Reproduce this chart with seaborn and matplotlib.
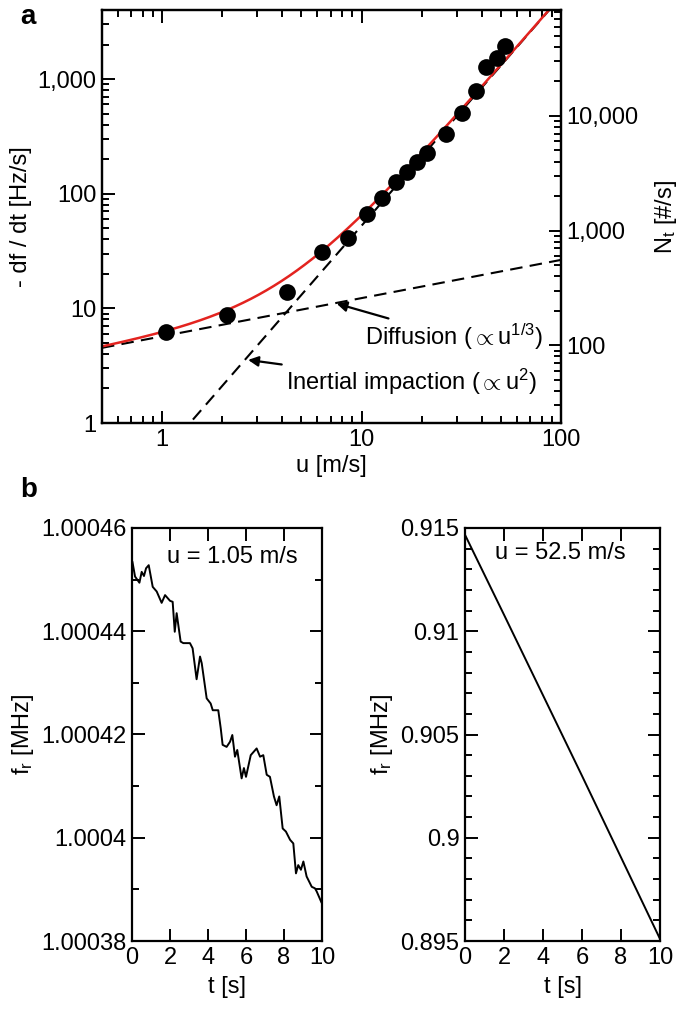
import numpy as np
import pandas as pd
import seaborn as sns
import matplotlib
matplotlib.use("Agg")
import matplotlib.pyplot as plt
from matplotlib.ticker import FuncFormatter, LogLocator, MultipleLocator, NullFormatter

# ---------------- data ----------------
u_data = [1.05, 2.12, 4.23, 6.34, 8.55, 10.65, 12.7, 14.9, 16.9, 19.0,
          21.3, 26.5, 31.9, 37.5, 42.1, 47.8, 52.5]
dfdt_data = [6.2, 8.7, 13.8, 30.7, 41.4, 67, 92, 127, 155, 190,
             227, 332, 506, 787, 1271, 1523, 1936]

# power-law model lines
diff_coef, diff_exp = 5.7, 1.0 / 3.0      # Diffusion  ~ u^(1/3)
inert_coef, inert_exp = 0.525, 2.0        # Inertial impaction ~ u^2
Nt_factor = 21.0                          # right axis scale (N_t per df/dt)

# time trace at u = 1.05 m/s
t_slow = [0.02, 0.16, 0.39, 0.51, 0.63, 0.74, 0.88, 1.09, 1.30, 1.56, 1.74, 2.00,
          2.14, 2.25, 2.35, 2.56, 2.70, 3.05, 3.19, 3.40, 3.58, 3.67, 3.93, 4.14,
          4.25, 4.54, 4.67, 4.77, 4.98, 5.16, 5.28, 5.42, 5.54, 5.77, 5.89, 6.00,
          6.25, 6.56, 6.74, 6.91, 7.09, 7.26, 7.47, 7.61, 7.75, 7.93, 8.10, 8.32,
          8.49, 8.63, 8.75, 8.89, 9.02, 9.19, 9.46, 9.63, 9.72, 9.98]
f_slow = [1.0004535, 1.0004506, 1.0004494, 1.0004515, 1.0004507, 1.0004522, 1.0004528,
          1.0004486, 1.0004477, 1.0004455, 1.0004470, 1.0004459, 1.0004457, 1.0004399,
          1.0004435, 1.0004380, 1.0004377, 1.0004377, 1.0004367, 1.0004307, 1.0004351,
          1.0004338, 1.0004270, 1.0004260, 1.0004247, 1.0004247, 1.0004212, 1.0004180,
          1.0004176, 1.0004186, 1.0004199, 1.0004157, 1.0004170, 1.0004115, 1.0004135,
          1.0004118, 1.0004160, 1.0004173, 1.0004157, 1.0004160, 1.0004122, 1.0004118,
          1.0004080, 1.0004063, 1.0004080, 1.0004018, 1.0004012, 1.0003996, 1.0003989,
          1.0003931, 1.0003947, 1.0003938, 1.0003954, 1.0003925, 1.0003905, 1.0003902,
          1.0003896, 1.0003874]

# time trace at u = 52.5 m/s
t_fast = [0, 2, 4, 6, 8, 10]
f_fast = [0.91467, 0.91080, 0.90690, 0.90300, 0.89905, 0.89510]

# ---------------- style ----------------
sns.set_theme(style="ticks")
plt.rcParams["font.family"] = ["Liberation Sans", "DejaVu Sans"]
plt.rcParams["mathtext.fontset"] = "custom"
plt.rcParams["mathtext.rm"] = "Liberation Sans"
plt.rcParams["mathtext.it"] = "Liberation Sans:italic"
plt.rcParams["mathtext.bf"] = "Liberation Sans:bold"
plt.rcParams["mathtext.sf"] = "Liberation Sans"
for key in ["text.color", "axes.labelcolor", "xtick.color", "ytick.color", "axes.edgecolor"]:
    plt.rcParams[key] = "black"
FS = 17
plt.rcParams["font.size"] = FS
plt.rcParams["axes.linewidth"] = 1.6

fig = plt.figure(figsize=(6.78, 10.09), dpi=100)
W, H = 678.0, 1009.0


def place(x0, x1, y0, y1):
    return fig.add_axes([x0 / W, 1 - y1 / H, (x1 - x0) / W, (y1 - y0) / H])


def style_ticks(ax, **kw):
    ax.tick_params(which="both", direction="in", width=1.4, colors="black",
                   labelsize=FS, **kw)
    ax.tick_params(which="major", length=9, pad=4)
    ax.tick_params(which="minor", length=5)
    for s in ax.spines.values():
        s.set_linewidth(1.6)
        s.set_color("black")


comma = FuncFormatter(lambda v, p: "{:,.0f}".format(v))

# ---------------- panel a ----------------
ax = place(102, 561, 10, 423)
ax.set_xscale("log")
ax.set_yscale("log")

u_fit = np.logspace(np.log10(0.5), np.log10(100), 300)
diff_line = diff_coef * u_fit ** diff_exp
inert_line = inert_coef * u_fit ** inert_exp
total_line = diff_line + inert_line

sns.lineplot(x=u_fit, y=diff_line, ax=ax, color="black", lw=1.5,
             linestyle=(0, (6, 3.5)), sort=False)
sns.lineplot(x=u_fit, y=inert_line, ax=ax, color="black", lw=1.5,
             linestyle=(0, (6, 3.5)), sort=False)
sns.lineplot(x=u_fit, y=total_line, ax=ax, color="#e3231f", lw=1.8, sort=False)
sns.scatterplot(x=u_data, y=dfdt_data, ax=ax, color="black", s=145,
                edgecolor="black", linewidth=0, zorder=5)

ax.set_xlim(0.5, 100)
ax.set_ylim(1, 4000)
ax.xaxis.set_major_locator(LogLocator(base=10, numticks=10))
ax.xaxis.set_minor_locator(LogLocator(base=10, subs=np.arange(2, 10), numticks=20))
ax.yaxis.set_major_locator(LogLocator(base=10, numticks=10))
ax.yaxis.set_minor_locator(LogLocator(base=10, subs=np.arange(2, 10), numticks=20))
ax.xaxis.set_major_formatter(comma)
ax.yaxis.set_major_formatter(comma)
ax.xaxis.set_minor_formatter(NullFormatter())
ax.yaxis.set_minor_formatter(NullFormatter())
style_ticks(ax, top=True, right=False)
ax.set_xlabel("u [m/s]", fontsize=FS, labelpad=3)
ax.set_ylabel("- df / dt [Hz/s]", fontsize=FS, labelpad=4)

ax2 = ax.twinx()
ax2.set_yscale("log")
ax2.set_ylim(1 * Nt_factor, 4000 * Nt_factor)
ax2.yaxis.set_major_locator(LogLocator(base=10, numticks=10))
ax2.yaxis.set_minor_locator(LogLocator(base=10, subs=np.arange(2, 10), numticks=20))
ax2.yaxis.set_major_formatter(comma)
ax2.yaxis.set_minor_formatter(NullFormatter())
style_ticks(ax2, right=True, left=False)
ax2.set_ylabel(r"N$_\mathrm{t}$ [#/s]", fontsize=FS, labelpad=10)

ax.annotate(r"Diffusion ($\propto$u$^{1/3}$)", xy=(7.5, 11.0),
            xytext=(10.4, 5.6), fontsize=FS, ha="left", va="center",
            arrowprops=dict(arrowstyle="-|>", color="black", lw=1.6,
                            mutation_scale=15, shrinkA=1, shrinkB=0))
ax.annotate(r"Inertial impaction ($\propto$u$^{2}$)", xy=(2.7, 3.55),
            xytext=(4.2, 2.27), fontsize=FS, ha="left", va="center",
            arrowprops=dict(arrowstyle="-|>", color="black", lw=1.6,
                            mutation_scale=15, shrinkA=1, shrinkB=0))

fig.text(20 / W, 1 - 17 / H, "a", fontsize=20, fontweight="bold", va="center")
fig.text(20 / W, 1 - 490 / H, "b", fontsize=20, fontweight="bold", va="center")


def trim(v, p):
    s = "{:.5f}".format(v).rstrip("0").rstrip(".")
    return s


# ---------------- panel b (left) ----------------
bl = place(132, 322, 528, 941)
sns.lineplot(x=t_slow, y=f_slow, ax=bl, color="black", lw=1.4, sort=False)
bl.set_xlim(0, 10)
bl.set_ylim(1.00038, 1.00046)
bl.xaxis.set_major_locator(MultipleLocator(2))
bl.yaxis.set_major_locator(MultipleLocator(0.00002))
bl.yaxis.set_minor_locator(MultipleLocator(0.00001))
bl.yaxis.set_major_formatter(FuncFormatter(trim))
bl.xaxis.set_major_formatter(FuncFormatter(lambda v, p: "{:d}".format(int(round(v)))))
style_ticks(bl, top=True, right=True)
bl.set_xlabel("t [s]", fontsize=FS, labelpad=5)
bl.set_ylabel(r"f$_\mathrm{r}$ [MHz]", fontsize=FS, labelpad=4)
bl.text(0.53, 0.93, "u = 1.05 m/s", transform=bl.transAxes, ha="center",
        va="center", fontsize=FS)

# ---------------- panel b (right) ----------------
br = place(465, 660, 528, 941)
sns.lineplot(x=t_fast, y=f_fast, ax=br, color="black", lw=1.4, sort=False)
br.set_xlim(0, 10)
br.set_ylim(0.895, 0.915)
br.xaxis.set_major_locator(MultipleLocator(2))
br.yaxis.set_major_locator(MultipleLocator(0.005))
br.yaxis.set_minor_locator(MultipleLocator(0.001))
br.yaxis.set_major_formatter(FuncFormatter(trim))
br.xaxis.set_major_formatter(FuncFormatter(lambda v, p: "{:d}".format(int(round(v)))))
style_ticks(br, top=True, right=True)
br.set_xlabel("t [s]", fontsize=FS, labelpad=5)
br.set_ylabel(r"f$_\mathrm{r}$ [MHz]", fontsize=FS, labelpad=4)
br.text(0.49, 0.94, "u = 52.5 m/s", transform=br.transAxes, ha="center",
        va="center", fontsize=FS)

fig.savefig("out.png", dpi=100)
